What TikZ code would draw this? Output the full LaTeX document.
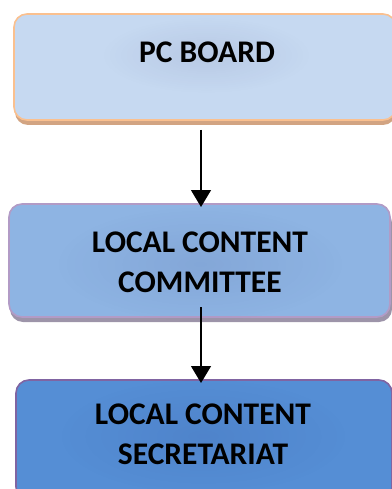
\documentclass[tikz,border=0pt]{standalone}
\usepackage{fontspec}
\setmainfont{Carlito}
\usetikzlibrary{arrows.meta,fadings}
\definecolor{boardfill}{HTML}{C6D9F1}
\definecolor{boardline}{HTML}{FAC08F}
\definecolor{boardshadow}{HTML}{D2A482}
\definecolor{commfill}{HTML}{8EB4E3}
\definecolor{commline}{HTML}{B29BC6}
\definecolor{commshadow}{HTML}{9D94A9}
\definecolor{secfill}{HTML}{558ED5}
\definecolor{secline}{HTML}{8064A2}
% soft glow that fades out from the centre
\tikzfading[name=softglow, inner color=transparent!20, outer color=transparent!100]
\tikzset{
  orgbox/.style={rounded corners=13pt, line width=1.6pt},
  boxlabel/.style={font=\fontsize{31.5}{40}\selectfont\bfseries, align=center, text=black, inner sep=0pt},
  halo/.style={fill=black!70!blue, opacity=0.09, path fading=softglow},
  flow/.style={line width=1.2pt, -{Triangle[length=17pt, width=20pt]}}
}
\begin{document}
\begin{tikzpicture}[x=1pt, y=-1pt]
\useasboundingbox (0,0) rectangle (391,489);
% PC board
\fill[boardshadow, rounded corners=13pt] (15,20) rectangle (396,125);
\draw[orgbox, fill=boardfill, draw=boardline] (14,14) rectangle (396,120);
\fill[halo] (206,55) ellipse (105pt and 38pt);
\node[boxlabel] (board) at (207,52) {PC BOARD};
\coordinate (boardbottom) at (201,130);
% committee
\fill[commshadow, rounded corners=13pt] (10,210) rectangle (392,322);
\draw[orgbox, fill=commfill, draw=commline] (9,204) rectangle (390,317);
\fill[halo] (200,264) ellipse (145pt and 58pt);
\node[boxlabel] (comm) at (200,262) {LOCAL CONTENT\\COMMITTEE};
\coordinate (commtop) at (201,207);
\coordinate (commbottom) at (201,307);
% secretariat
\draw[orgbox, fill=secfill, draw=secline] (16,380) rectangle (392,500);
\fill[halo] (203,436) ellipse (145pt and 58pt);
\node[boxlabel] (sec) at (203,434) {LOCAL CONTENT\\SECRETARIAT};
\coordinate (sectop) at (201,383);
% connectors
\draw[flow] (boardbottom) -- (commtop);
\draw[flow] (commbottom) -- (sectop);
\end{tikzpicture}
\end{document}
